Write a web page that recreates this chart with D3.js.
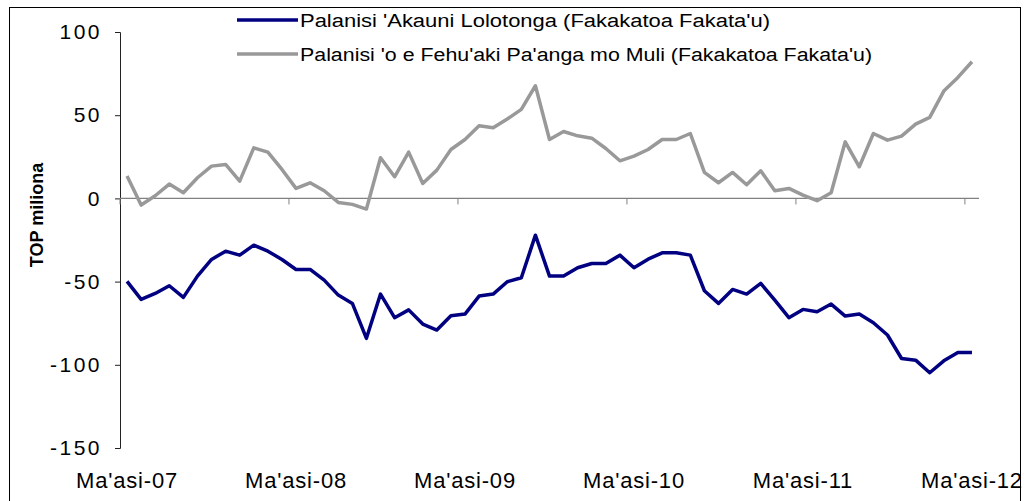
<!DOCTYPE html>
<html>
<head>
<meta charset="utf-8">
<script src="https://cdn.jsdelivr.net/npm/d3@7"></script>
<style>
  body { margin: 0; background: #fff; }
  text { font-family: "Liberation Sans", Arial, sans-serif; fill: #000; }
</style>
</head>
<body>
<div id="chart"></div>
<script>
// monthly, Ma'asi 2007 .. Ma'asi 2012
let months = [];
for (let y = 2007; y <= 2012; y++) {
    for (let m = 1; m <= 12; m++) {
        if ((y == 2007 && m < 3) || (y == 2012 && m > 3)) continue;
        months.push(y + "-" + (m < 10 ? "0" + m : m));
    }
}
let tickLabels = ["Ma'asi-07", "Ma'asi-08", "Ma'asi-09", "Ma'asi-10", "Ma'asi-11", "Ma'asi-12"];
let yTicks = [100, 50, 0, -50, -100, -150];
let seriesNames = ["Palanisi 'Akauni Lolotonga (Fakakatoa Fakata'u)",
                   "Palanisi 'o e Fehu'aki Pa'anga mo Muli (Fakakatoa Fakata'u)"];

let currentAccount = [-49.9, -60.7, -57.1, -52.5, -59.5, -46.7, -36.7, -31.7, -34.1, -28.1,
    -31.7, -36.7, -42.7, -42.7, -49.1, -58.1, -63.1, -84.1, -57.5, -71.7,
    -67.0, -75.5, -79.1, -70.5, -69.5, -58.7, -57.5, -50.1, -47.7, -22.1,
    -46.7, -46.7, -41.7, -39.1, -39.1, -34.1, -41.7, -36.5, -32.7, -32.7,
    -34.1, -55.5, -63.1, -54.7, -57.5, -51.1, -61.1, -71.7, -66.7, -68.1,
    -63.5, -70.7, -69.5, -74.7, -82.1, -96.2, -97.2, -104.8, -97.6, -92.6,
    -92.6];
let overallBalance = [13.4, -4.0, 1.6, 8.6, 3.4, 12.4, 19.4, 20.4, 10.4, 30.4,
    27.8, 17.4, 6.0, 9.4, 4.6, -2.4, -3.6, -6.4, 24.4, 13.0,
    27.8, 9.0, 17.0, 29.4, 35.4, 43.6, 42.4, 47.7, 53.5, 67.7,
    35.4, 40.2, 37.6, 36.2, 30.0, 22.6, 25.4, 29.4, 35.4, 35.4,
    39.0, 15.6, 9.4, 15.6, 8.2, 16.6, 4.6, 6.0, 2.0, -1.4,
    3.4, 34.0, 19.0, 39.0, 35.0, 37.4, 44.6, 48.7, 64.5, 72.7,
    82.1];
let colors = ["#000080", "#999999"];

let width = 1026, height = 501;
let svg = d3.select("#chart").append("svg")
    .attr("width", width)
    .attr("height", height);

// outer frame
svg.append("rect")
    .attr("x", 9.5).attr("y", 7.5)
    .attr("width", 1011).attr("height", 500)
    .attr("fill", "none").attr("stroke", "#000").attr("stroke-width", 1);

let x = d3.scaleBand()
    .domain(months)
    .range([120, 979]);

let y = d3.scaleLinear()
    .domain([-150, 100])
    .range([448, 32]);

// y axis
let yAxis = svg.append("g")
    .attr("transform", "translate(120,0)")
    .call(d3.axisLeft(y).tickValues(yTicks).tickSize(5).tickPadding(13)
        .tickFormat(function(d) { return String(d); }));
yAxis.select(".domain").attr("stroke", "#222");
yAxis.selectAll(".tick line").attr("stroke", "#222");
yAxis.selectAll(".tick text")
    .style("font-size", "21px")
    .style("letter-spacing", "2.5px")
    .attr("fill", "#000");

// x axis at zero, ticks between categories every 12 months
let xAxisG = svg.append("g").attr("class", "xaxis");
xAxisG.append("line")
    .attr("x1", 120).attr("x2", 979)
    .attr("y1", y(0)).attr("y2", y(0))
    .attr("stroke", "#808080").attr("stroke-width", 1.2);
let tickMonths = months.filter(function(d, i) { return i % 12 == 0; });
xAxisG.selectAll("line.tk")
    .data(tickMonths)
    .enter().append("line")
    .attr("class", "tk")
    .attr("x1", function(d) { return x(d); })
    .attr("x2", function(d) { return x(d); })
    .attr("y1", y(0)).attr("y2", y(0) + 6)
    .attr("stroke", "#808080");

svg.selectAll("text.xlab")
    .data(tickMonths)
    .enter().append("text")
    .attr("class", "xlab")
    .attr("x", function(d) { return x(d) + x.bandwidth() / 2; })
    .attr("y", 488)
    .attr("text-anchor", "middle")
    .style("font-size", "22px")
    .style("letter-spacing", "0.8px")
    .text(function(d, i) { return tickLabels[i]; });

// y axis title
svg.append("text")
    .attr("transform", "translate(43,215) rotate(-90)")
    .attr("text-anchor", "middle")
    .style("font-size", "18px")
    .style("font-weight", "bold")
    .text("TOP miliona");

// lines
let line = d3.line()
    .x(function(d, i) { return x(months[i]) + x.bandwidth() / 2; })
    .y(function(d) { return y(d); });

[overallBalance, currentAccount].forEach(function(s, k) {
    svg.append("path")
        .datum(s)
        .attr("d", line)
        .attr("fill", "none")
        .attr("stroke", colors[1 - k])
        .attr("stroke-width", 3.5)
        .attr("stroke-linejoin", "round");
});

// legend
let legendY = [20, 54];
let legendW = [470, 572];
let lg = svg.selectAll("g.legend")
    .data(seriesNames)
    .enter().append("g")
    .attr("class", "legend")
    .attr("transform", function(d, i) { return "translate(237," + legendY[i] + ")"; });
lg.append("line")
    .attr("x1", 0).attr("x2", 61)
    .attr("stroke", function(d, i) { return colors[i]; })
    .attr("stroke-width", 3.5);
lg.append("text")
    .attr("x", 63)
    .attr("y", 6.5)
    .style("font-size", "18px")
    .attr("textLength", function(d, i) { return legendW[i]; })
    .attr("lengthAdjust", "spacingAndGlyphs")
    .text(function(d) { return d; });
</script>
</body>
</html>
